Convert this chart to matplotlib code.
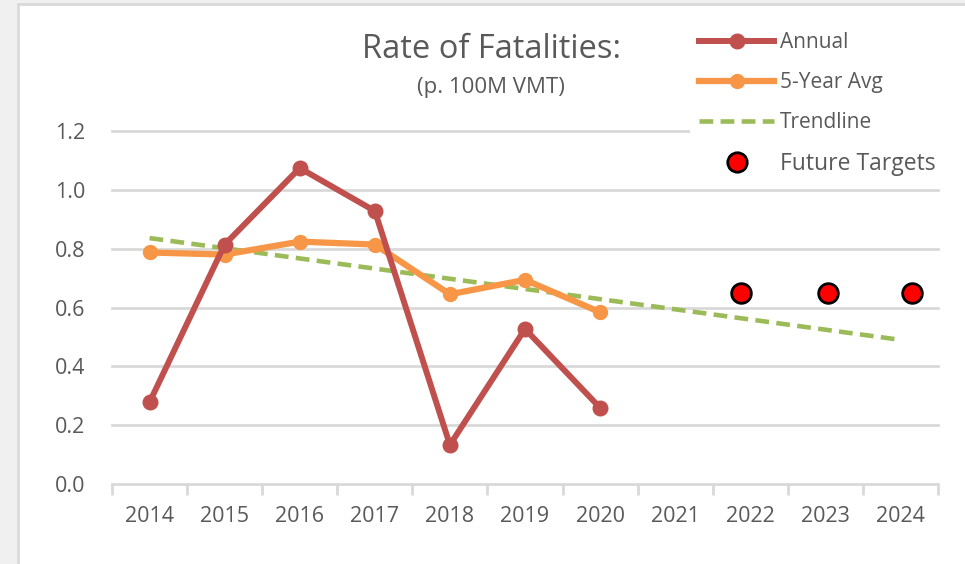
import matplotlib
matplotlib.use("Agg")
import matplotlib.pyplot as plt
from matplotlib.patches import Rectangle
from matplotlib.lines import Line2D

years = ["2014", "2015", "2016", "2017", "2018", "2019", "2020", "2021", "2022", "2023", "2024"]
annual = [0.278, 0.814, 1.074, 0.928, 0.133, 0.527, 0.259]
five_year_avg = [0.787, 0.780, 0.824, 0.814, 0.645, 0.694, 0.584]
trend_pos = [0, 10]
trend_vals = [0.836, 0.490]
target_pos = [7.88, 9.04, 10.16]
target_vals = [0.65, 0.65, 0.65]
yticks = [0.0, 0.2, 0.4, 0.6, 0.8, 1.0, 1.2]

plt.rcParams['font.family'] = ['Open Sans', 'DejaVu Sans']
txt = '#595959'
W, H = 965, 564
fig = plt.figure(figsize=(W/100, H/100), dpi=100)
fig.patch.set_facecolor('#F0F0F0')
panel = Rectangle((18/W, -0.01), 1.01 - 18/W, 1.01 - 4/H, transform=fig.transFigure,
                  facecolor='white', edgecolor='#D9D9D9', linewidth=2, zorder=-10)
fig.add_artist(panel)

ax = fig.add_axes([112/W, 1 - 484/H, (938-112)/W, (484-131)/H])
ax.set_zorder(1)
ax.set_facecolor('none')
ax.set_xlim(-0.5, 10.5)
ax.set_ylim(0, 1.2)

for v in yticks[1:]:
    ax.axhline(v, color='#D9D9D9', linewidth=2, zorder=1, clip_on=False)

red, orange, green = '#C0504D', '#F79646', '#9BBB59'
x_idx = list(range(len(years)))
ax.plot(x_idx[:len(annual)], annual, color=red, linewidth=4.3, marker='o',
        markersize=10.5, zorder=4, solid_capstyle='round')
ax.plot(x_idx[:len(five_year_avg)], five_year_avg, color=orange, linewidth=4.5, marker='o',
        markersize=10, zorder=3, solid_capstyle='round')
ax.plot(trend_pos, trend_vals, color=green, linewidth=3.3, linestyle=(0, (3, 1.6)), zorder=2)
ax.scatter(target_pos, target_vals, s=200, color='#FF0000', edgecolor='black', linewidth=2, zorder=5)

for s in ['top', 'right', 'left']:
    ax.spines[s].set_visible(False)
ax.spines['bottom'].set_color('#D9D9D9')
ax.spines['bottom'].set_linewidth(2)

ax.set_xticks([i - 0.5 for i in range(len(years) + 1)], minor=False)
ax.set_xticklabels([])
ax.set_xticks(x_idx, minor=True)
ax.set_xticklabels(years, minor=True)
ax.tick_params(axis='x', which='major', length=8, width=2, color='#D9D9D9', direction='out')
ax.tick_params(axis='x', which='minor', length=0, pad=16, labelsize=15.5, labelcolor=txt)
ax.set_yticks(yticks)
ax.set_yticklabels([f"{v:.1f}" for v in yticks])
ax.tick_params(axis='y', length=0, pad=19, labelsize=15.5, labelcolor=txt)

fig.text(492/W, 1 - 49/H, "Rate of Fatalities:", ha='center', va='center', fontsize=23.5, color=txt)
fig.text(491/W, 1 - 87/H, "(p. 100M VMT)", ha='center', va='center', fontsize=16, color=txt)

handles = [
    Line2D([], [], color=red, linewidth=4.3, marker='o', markersize=10.5),
    Line2D([], [], color=orange, linewidth=4.5, marker='o', markersize=10),
    Line2D([], [], color=green, linewidth=3.3, linestyle=(0, (3, 1.6))),
    Line2D([], [], color='none', marker='o', markersize=14, markerfacecolor='#FF0000',
           markeredgecolor='black', markeredgewidth=2),
]
labels = ["Annual", "5-Year Avg", "Trendline", "Future Targets"]
leg = fig.legend(handles, labels, loc='upper left', mode='expand',
                 bbox_to_anchor=(690/W, 1 - 189/H, 290/W, 166/H),
                 frameon=True, fontsize=15, handlelength=3.6, handletextpad=0.25,
                 labelspacing=0.9, borderpad=0.45, borderaxespad=0, numpoints=1, fancybox=False)
leg.get_frame().set_facecolor('white')
leg.get_frame().set_edgecolor('none')
leg.get_frame().set_alpha(1)
leg.set_zorder(10)
for t in leg.get_texts():
    t.set_color(txt)
leg.get_texts()[3].set_fontsize(16.5)

fig.savefig("out.png", dpi=100, facecolor=fig.get_facecolor())
